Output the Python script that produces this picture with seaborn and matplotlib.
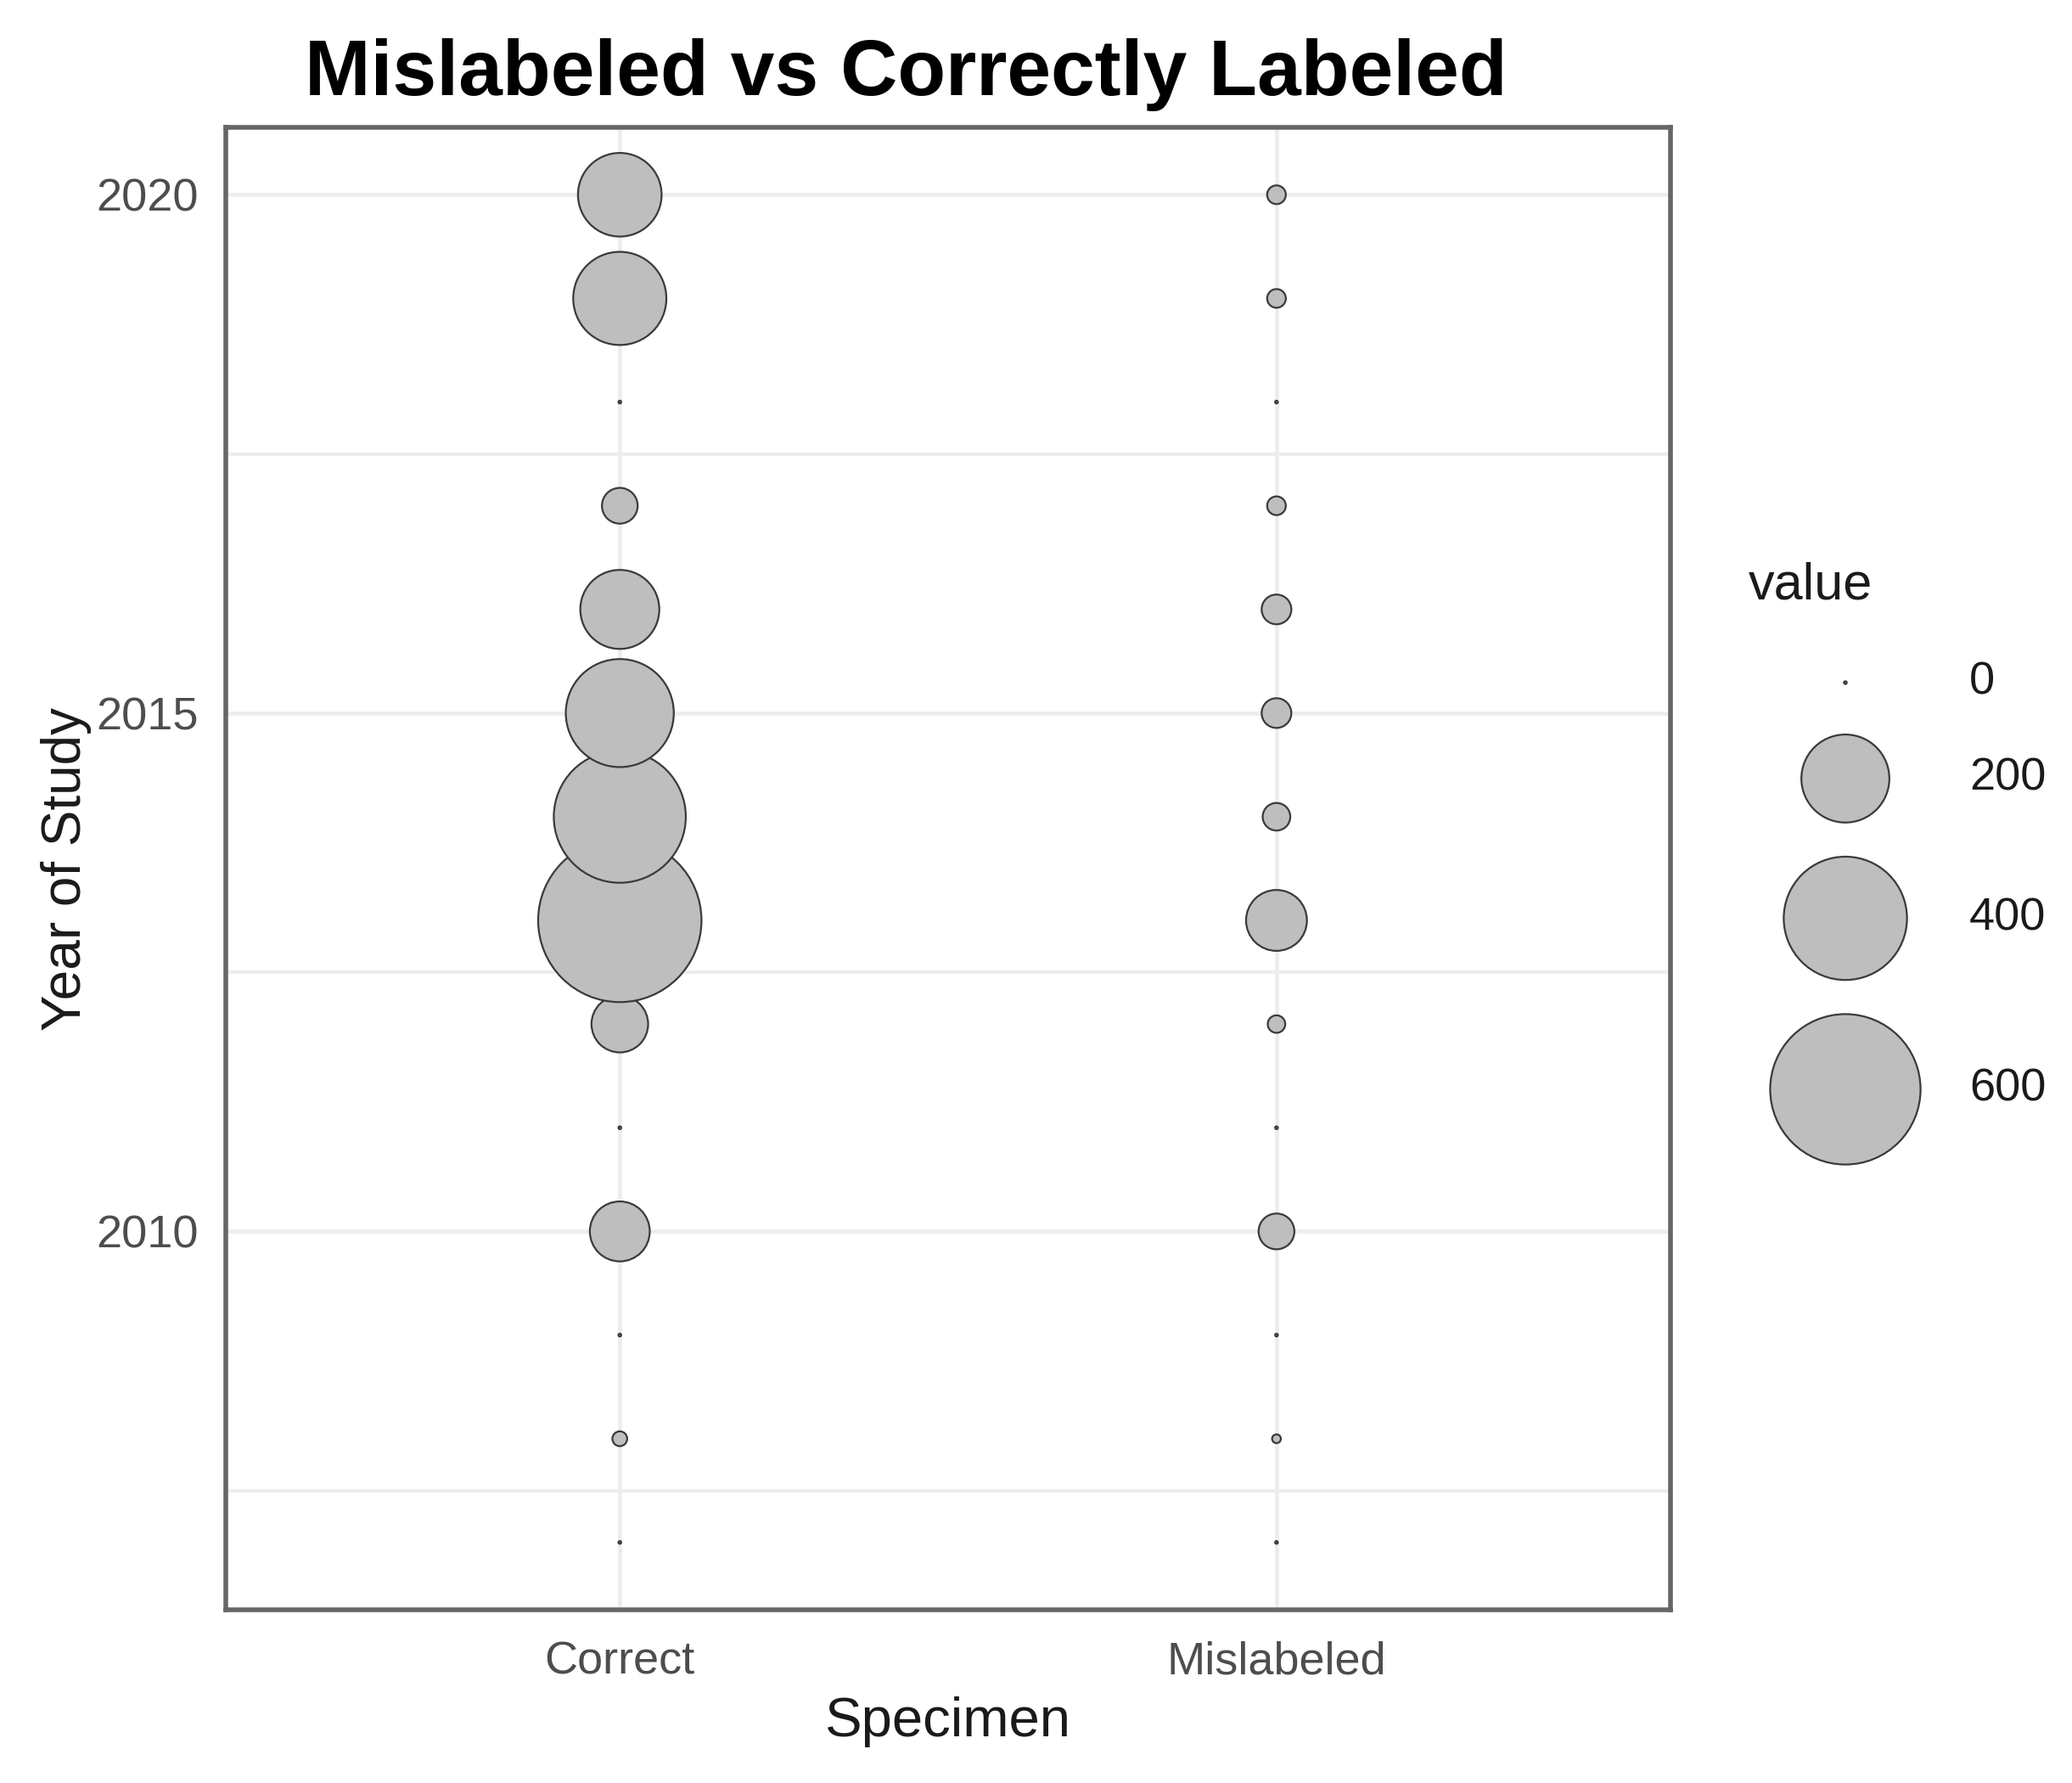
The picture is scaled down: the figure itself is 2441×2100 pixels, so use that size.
import numpy as np
import pandas as pd
import matplotlib
matplotlib.use("Agg")
import matplotlib.pyplot as plt
import seaborn as sns

# data
years = list(range(2007, 2021))
specimens = ["Correct", "Mislabeled"]
correct_vals = [0, 4, 0, 90, 0, 80, 710, 460, 305, 160, 30, 0, 225, 180]
mislabeled_vals = [0, 1, 0, 30, 0, 6, 93, 17, 20, 20, 7, 0, 7, 7]
legend_vals = [0, 200, 400, 600]

W, H = 2441, 2100
K = 1.557   # reference display -> output pixels
LW = 1.6    # marker edge width, pt


def diam_px(v):
    # ggplot-like area scale: diameter grows with sqrt(value)
    return K * (3.5 + 4.56 * np.sqrt(v))


def area_pt2(v):
    d_pt = np.maximum(0.72 * diam_px(v) - LW, 2.0)
    return d_pt ** 2


df = pd.DataFrame({
    "Specimen": ["Correct"] * len(years) + ["Mislabeled"] * len(years),
    "Year": years + years,
    "value": correct_vals + mislabeled_vals,
})
df["area"] = area_pt2(df["value"].to_numpy(dtype=float))
amin, amax = float(area_pt2(0.0)), float(area_pt2(800.0))

sns.set_style("white")
plt.rcParams["font.family"] = ["Liberation Sans", "DejaVu Sans"]

fig = plt.figure(figsize=(W / 100, H / 100), dpi=100)
ax = fig.add_axes([266 / W, 1 - 1896 / H, 1702 / W, 1746 / H])

sns.scatterplot(data=df, x="Specimen", y="Year", size="area",
                sizes=(amin, amax), size_norm=(amin, amax),
                color="#BEBEBE", edgecolor="#3a3a3a", linewidth=LW,
                legend=False, ax=ax, zorder=3)

ax.set_xlim(-0.6, 1.6)
ax.set_ylim(2006.35, 2020.65)
ax.set_yticks([2010, 2015, 2020])
ax.set_yticks([2007.5, 2012.5, 2017.5], minor=True)
ax.set_axisbelow(True)
ax.grid(which="major", color="#EDEDED", lw=3.4)
ax.grid(which="minor", axis="y", color="#EDEDED", lw=3.0)
ax.tick_params(which="minor", length=0)
ax.tick_params(which="major", length=13, width=3.5, color="#555555",
               labelsize=39, labelcolor="#4D4D4D", pad=10)
ax.tick_params(axis="x", pad=13.5)
for s in ax.spines.values():
    s.set_color("#666666")
    s.set_linewidth(4)

ax.set_xlabel("Specimen", fontsize=47, color="#1a1a1a")
ax.set_ylabel("Year of Study", fontsize=46, color="#1a1a1a")
ax.xaxis.set_label_coords(0.5, -0.0587)
ax.yaxis.set_label_coords(-0.093, 0.5)

fig.text(1067 / W, 1 - 112 / H, "Mislabeled vs Correctly Labeled",
         fontsize=67, fontweight="bold", ha="center", va="baseline",
         color="black")

# legend drawn in a pixel-unit overlay
lax = fig.add_axes([0, 0, 1, 1])
lax.set_xlim(0, W)
lax.set_ylim(H, 0)
lax.axis("off")
lax.patch.set_visible(False)

heights = [max(diam_px(v) + 38, 82) for v in legend_vals]
top = 763
centers = []
for h in heights:
    centers.append(top + h / 2)
    top += h
leg = pd.DataFrame({"x": [2174] * len(legend_vals), "y": centers,
                    "area": [float(area_pt2(float(v))) for v in legend_vals]})
sns.scatterplot(data=leg, x="x", y="y", size="area",
                sizes=(amin, amax), size_norm=(amin, amax),
                color="#BEBEBE", edgecolor="#3a3a3a", linewidth=LW,
                legend=False, ax=lax)
lax.set_xlabel("")
lax.set_ylabel("")
lax.text(2060, 690, "value", fontsize=44, ha="left", va="center", color="#1a1a1a")
for v, cy in zip(legend_vals, centers):
    lax.text(2320, cy, str(v), fontsize=39, ha="left", va="center", color="#1a1a1a")

fig.savefig("out.png", dpi=100)
